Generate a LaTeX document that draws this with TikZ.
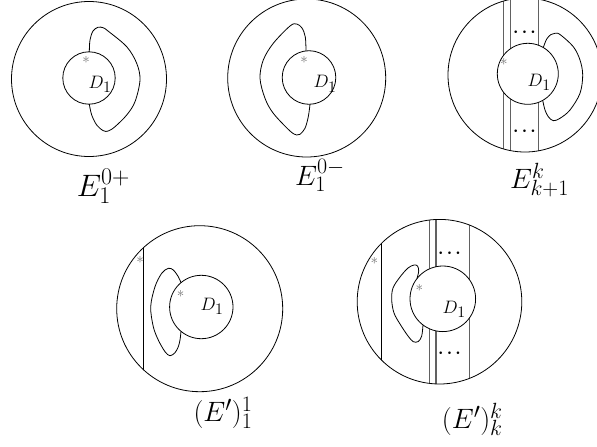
\RequirePackage{fix-cm}
\documentclass[tikz,border=0pt]{standalone}
\DeclareMathSizes{18}{18}{16}{12}
\DeclareMathSizes{28}{28}{22}{17}
\DeclareMathSizes{31}{31}{24}{18}
\tikzset{
  circ/.style={line width=0.8pt, black},
  sepline/.style={line width=1.1pt, black!62},
  cutline/.style={line width=0.9pt, black},
  loopcurve/.style={line width=0.8pt, black, smooth, tension=0.55},
  starmark/.style={text=black!55, font=\fontsize{15}{15}\selectfont, inner sep=0pt},
  dlabel/.style={font=\fontsize{18}{21}\selectfont, inner sep=0pt},
  dotsmark/.style={font=\fontsize{17}{17}\selectfont\boldmath, inner sep=0pt},
  caption/.style={font=\fontsize{28}{34}\selectfont, inner sep=0pt, anchor=base west},
  bigcaption/.style={font=\fontsize{31}{37}\selectfont, inner sep=0pt, anchor=base west}
}
\begin{document}
\begin{tikzpicture}[x=1pt,y=-1pt]
\useasboundingbox (0,0) rectangle (597,447);
\clip (0,0) rectangle (597,447);
% ---------- diagram 1: E_1^{0+}
\draw[circ] (89,79) circle (77.5);
\draw[circ] (89,78) circle (26.2);
\draw[loopcurve] plot coordinates {(89.3,51.8) (90,40) (93,31) (98,27.3) (103,27.7) (108,31) (126.7,46.7) (136.7,63.3) (140,80) (135,101.7) (126.7,115) (115,126.7) (108.3,131) (103.3,130.7) (96.7,125) (91.7,115) (89.3,104.2)};
\node[starmark] (s1) at (86,60) {$\ast$};
\node[dlabel] (d1) at (100,84) {$D_1$};
\node[bigcaption] (c1) at (76.7,196) {$E_1^{0+}$};
% ---------- diagram 2: E_1^{0-}
\draw[circ] (306.7,78) circle (79);
\draw[circ] (309,77.5) circle (26.8);
\draw[loopcurve] plot coordinates {(306,50.9) (305.3,37) (302,28) (296.7,24) (290,26) (273.3,43.3) (263.3,60) (260,78.3) (265,98.3) (273.3,113.3) (290,131) (296.7,135) (300,134.3) (305,128.3) (308.3,116.7) (310,104.3)};
\node[starmark] (s2) at (304,60) {$\ast$};
\node[dlabel] (d2) at (325,83.8) {$D_1$};
\node[caption] (c2) at (295,185) {$E_1^{0-}$};
% ---------- diagram 3: E_{k+1}^k
\begin{scope}
\clip (525,75) circle (77);
\draw[sepline] (503.3,-10) -- (503.3,160);
\draw[sepline] (510.7,-10) -- (510.7,160);
\draw[sepline] (538.3,-10) -- (538.3,160);
\end{scope}
\draw[circ] (525,75) circle (77);
\draw[circ, fill=white] (527.8,73.8) circle (30.5);
\draw[loopcurve] plot coordinates {(543.3,47.5) (546.7,39) (551,34.5) (555,33.3) (560,34.5) (573.3,46.7) (580,60) (582.7,75) (580,93.3) (570,110) (560,118.3) (553.3,120.7) (548.3,116.7) (545,110) (542.7,100.4)};
\node[dotsmark] (p3a) at (524.5,32) {$\cdots$};
\node[dotsmark] (p3b) at (524.5,131) {$\cdots$};
\node[starmark] (s3) at (503.8,62.2) {$\ast$};
\node[dlabel] (d3) at (539.2,82.2) {$D_1$};
\node[caption] (c3) at (510,188.3) {$E_{k+1}^k$};
% ---------- diagram 4: (E')_1^1
\begin{scope}
\clip (199.7,308.7) circle (83);
\draw[cutline] (143.3,200) -- (143.3,420);
\end{scope}
\draw[circ] (199.7,308.7) circle (83);
\draw[circ] (201.3,307) circle (31.7);
\draw[loopcurve] plot coordinates {(181,282.7) (178.3,276.7) (173.3,270) (168.3,268.3) (161.7,273.3) (155,286.7) (150.7,306.7) (153.3,326.7) (158.3,340) (165,351.7) (170,355.7) (175,352.7) (178.3,346.7) (180,340) (181,331.3)};
\node[starmark] (s4a) at (140,260.5) {$\ast$};
\node[starmark] (s4b) at (180.5,294.3) {$\ast$};
\node[dlabel] (d4) at (212,306.7) {$D_1$};
\node[caption] (c4) at (193.3,421.7) {$(E')_1^1$};
% ---------- diagram 5: (E')_k^k
\begin{scope}
\clip (439.5,301.7) circle (82.3);
\draw[cutline] (381.7,200) -- (381.7,400);
\draw[sepline] (429.3,200) -- (429.3,400);
\draw[sepline] (436,200) -- (436,400);
\draw[sepline] (469.3,200) -- (469.3,400);
\end{scope}
\draw[circ] (439.5,301.7) circle (82.3);
\draw[circ, fill=white] (442.8,298.8) circle (32.8);
\draw[loopcurve] plot coordinates {(417,278.5) (418.7,271) (417.5,266) (414,265) (408,268) (400,277) (393,288) (391.7,300) (394,313) (400,324) (408,336) (413.3,341.7) (418.3,341.5) (421.7,336) (423,325)};
\node[dotsmark] (p5a) at (449.5,253.3) {$\cdots$};
\node[dotsmark] (p5b) at (449.5,353.3) {$\cdots$};
\node[starmark] (s5a) at (374.3,261.2) {$\ast$};
\node[starmark] (s5b) at (419.3,287.8) {$\ast$};
\node[dlabel] (d5) at (454.2,309.7) {$D_1$};
\node[caption] (c5) at (441.7,428.3) {$(E')_k^k$};
\end{tikzpicture}
\end{document}
